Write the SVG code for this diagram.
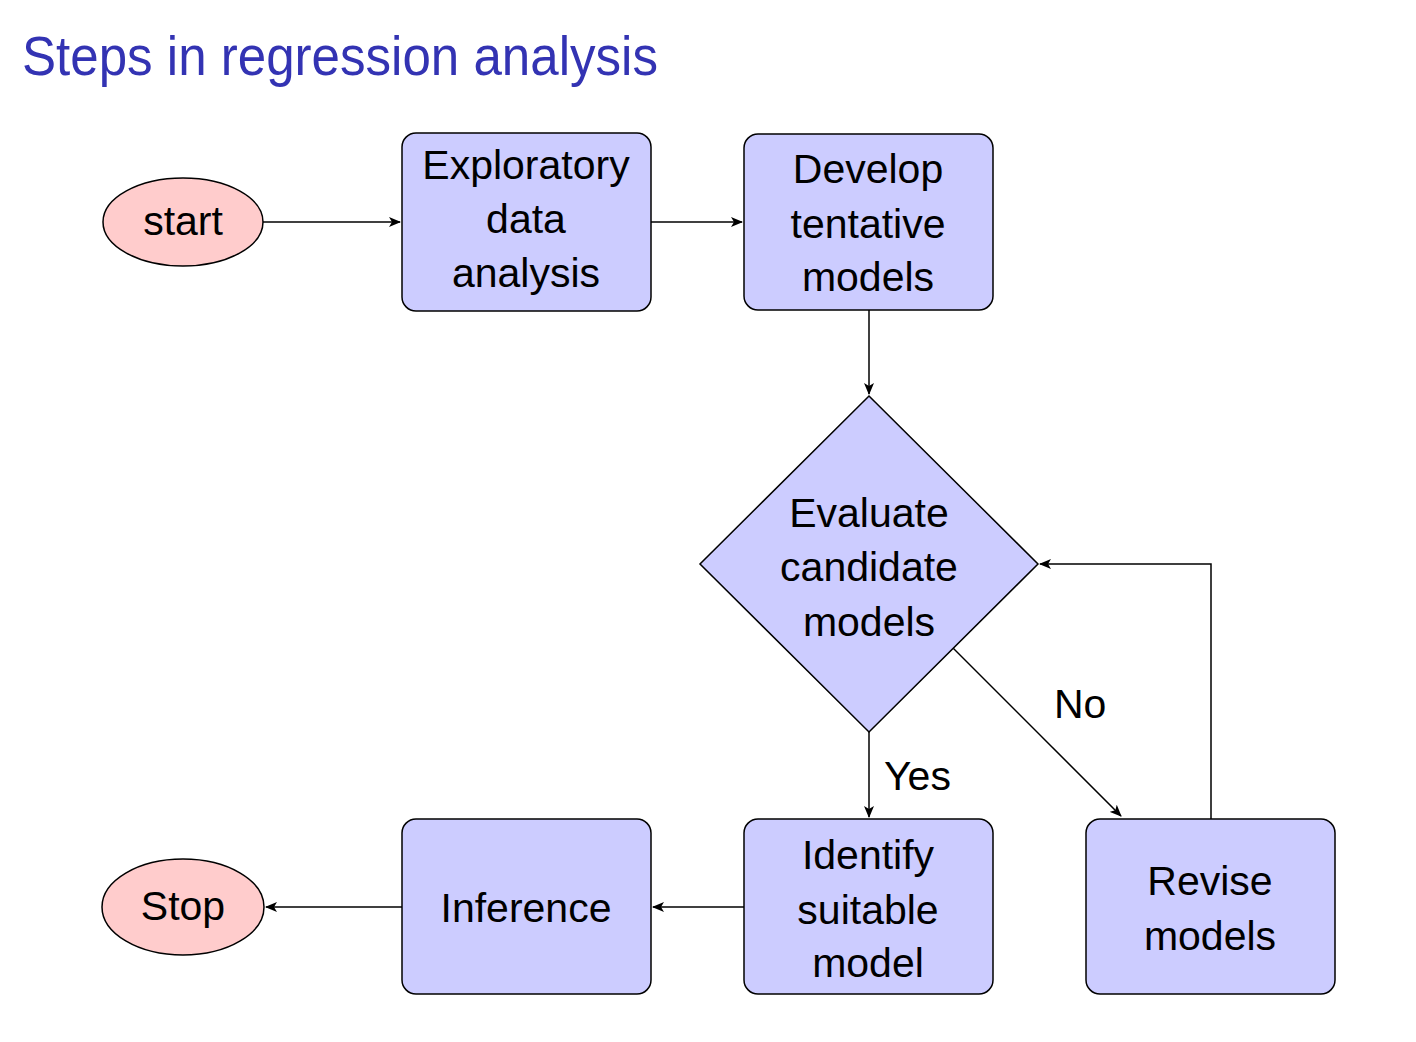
<svg xmlns="http://www.w3.org/2000/svg" width="1416" height="1042" viewBox="0 0 1416 1042">
<style>
.box{fill:#ccccff;stroke:#000;stroke-width:1.5}
.term{fill:#ffcccc;stroke:#000;stroke-width:1.5}
.t{font-family:"Liberation Sans",Arial,sans-serif;font-size:41px;fill:#000;text-anchor:middle}
.lbl{font-family:"Liberation Sans",Arial,sans-serif;font-size:41px;fill:#000}
.c{fill:none;stroke:#000;stroke-width:1.5}
</style>
<defs>
<marker id="ah" viewBox="0 0 12 10" refX="11" refY="5" markerWidth="12" markerHeight="10" markerUnits="userSpaceOnUse" orient="auto">
<path d="M0,0 L12,5 L0,10 L3,5 Z" fill="#000"/>
</marker>
</defs>
<rect width="1416" height="1042" fill="#fff"/>
<text x="22" y="75" font-family="'Liberation Sans',Arial,sans-serif" font-size="56" fill="#3333b3" textLength="636" lengthAdjust="spacingAndGlyphs">Steps in regression analysis</text>

<g id="connectors">
<path class="c" d="M263,222 L400,222" marker-end="url(#ah)"/>
<path class="c" d="M651,222 L742,222" marker-end="url(#ah)"/>
<path class="c" d="M869,310 L869,394" marker-end="url(#ah)"/>
<path class="c" d="M869,732 L869,817" marker-end="url(#ah)"/>
<path class="c" d="M953,648 L1121,816" marker-end="url(#ah)"/>
<path class="c" d="M1211,819 L1211,564 L1040,564" marker-end="url(#ah)"/>
<path class="c" d="M744,907 L653,907" marker-end="url(#ah)"/>
<path class="c" d="M402,907 L266,907" marker-end="url(#ah)"/>
<text class="lbl" x="884" y="790">Yes</text>
<text class="lbl" x="1054" y="718">No</text>
</g>

<g id="start">
<ellipse class="term" cx="183" cy="222" rx="80" ry="44"/>
<text class="t" x="183" y="235">start</text>
</g>
<g id="exploratory">
<rect class="box" x="402" y="133" width="249" height="178" rx="14"/>
<text class="t" x="526" y="179">Exploratory</text>
<text class="t" x="526" y="233">data</text>
<text class="t" x="526" y="287">analysis</text>
</g>
<g id="develop">
<rect class="box" x="744" y="134" width="249" height="176" rx="14"/>
<text class="t" x="868" y="183">Develop</text>
<text class="t" x="868" y="238">tentative</text>
<text class="t" x="868" y="291">models</text>
</g>
<g id="evaluate">
<polygon class="box" points="869,396 1038,564 869,732 700,564"/>
<text class="t" x="869" y="527">Evaluate</text>
<text class="t" x="869" y="581">candidate</text>
<text class="t" x="869" y="636">models</text>
</g>
<g id="identify">
<rect class="box" x="744" y="819" width="249" height="175" rx="14"/>
<text class="t" x="868" y="869">Identify</text>
<text class="t" x="868" y="924">suitable</text>
<text class="t" x="868" y="977">model</text>
</g>
<g id="revise">
<rect class="box" x="1086" y="819" width="249" height="175" rx="14"/>
<text class="t" x="1210" y="895">Revise</text>
<text class="t" x="1210" y="950">models</text>
</g>
<g id="inference">
<rect class="box" x="402" y="819" width="249" height="175" rx="14"/>
<text class="t" x="526" y="922">Inference</text>
</g>
<g id="stop">
<ellipse class="term" cx="183" cy="907" rx="81" ry="48"/>
<text class="t" x="183" y="920">Stop</text>
</g>
</svg>
